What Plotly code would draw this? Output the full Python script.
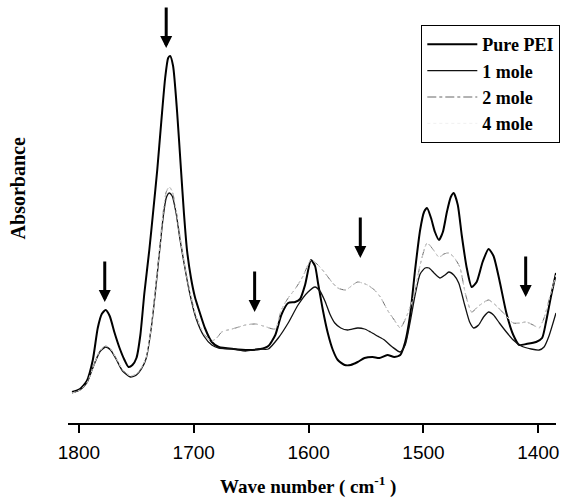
import plotly.graph_objects as go

# ---------------- data ----------------
pure_wn = [1806.0, 1799.1, 1793.1, 1787.9, 1783.6, 1780.1, 1776.7, 1773.2, 1768.9, 1764.6,
           1760.3, 1756.8, 1753.4, 1749.9, 1746.5, 1743.0, 1738.7, 1735.2, 1731.8, 1728.3,
           1724.9, 1722.3, 1720.6, 1718.0, 1714.5, 1711.1, 1708.5, 1705.9, 1702.4, 1699.0,
           1695.5, 1690.3, 1684.3, 1678.2, 1665.3, 1652.3, 1642.0, 1635.1, 1629.0, 1623.8,
           1617.8, 1611.7, 1607.4, 1603.1, 1597.9, 1594.4, 1591.8, 1587.6, 1583.3, 1578.9,
           1574.6, 1568.6, 1563.4, 1557.3, 1551.3, 1544.4, 1538.3, 1531.4, 1525.4, 1520.2,
           1515.9, 1511.6, 1507.3, 1502.9, 1499.5, 1496.9, 1493.4, 1490.0, 1486.5, 1483.1,
           1479.6, 1476.2, 1473.6, 1470.1, 1466.7, 1462.3, 1458.0, 1453.7, 1448.5, 1443.3,
           1439.0, 1433.9, 1427.8, 1421.8, 1416.6, 1410.5, 1401.9, 1396.7, 1393.3, 1388.9,
           1384.6]
pure_abs = [0.31, 0.34, 0.42, 0.63, 0.95, 1.09, 1.13, 1.07, 0.90, 0.75,
            0.63, 0.56, 0.58, 0.65, 0.88, 1.30, 1.73, 2.13, 2.53, 3.01,
            3.45, 3.65, 3.67, 3.57, 3.11, 2.53, 2.09, 1.73, 1.45, 1.26,
            1.13, 0.95, 0.81, 0.76, 0.74, 0.73, 0.74, 0.77, 0.88, 1.08,
            1.20, 1.21, 1.24, 1.38, 1.63, 1.57, 1.40, 1.13, 0.90, 0.73,
            0.63, 0.58, 0.58, 0.61, 0.65, 0.66, 0.65, 0.68, 0.66, 0.68,
            0.81, 1.08, 1.53, 1.93, 2.11, 2.15, 2.05, 1.91, 1.83, 1.91,
            2.11, 2.26, 2.30, 2.18, 1.88, 1.55, 1.36, 1.41, 1.61, 1.74,
            1.67, 1.43, 1.10, 0.88, 0.78, 0.79, 0.81, 0.85, 1.01, 1.27,
            1.50]

mole1_wn = [1806.0, 1799.1, 1793.1, 1787.9, 1781.9, 1776.7, 1772.4, 1767.2, 1762.0, 1755.1,
            1749.9, 1745.6, 1741.3, 1737.0, 1733.5, 1730.1, 1726.6, 1724.0, 1721.4, 1718.8,
            1715.4, 1711.9, 1708.5, 1704.1, 1698.1, 1691.2, 1684.3, 1678.2, 1665.3, 1654.9,
            1643.7, 1635.1, 1626.4, 1617.8, 1609.2, 1600.5, 1594.4, 1590.2, 1585.8, 1581.5,
            1577.2, 1572.0, 1566.0, 1557.3, 1551.3, 1546.1, 1540.1, 1534.0, 1527.1, 1520.2,
            1515.9, 1511.6, 1507.3, 1502.9, 1498.6, 1495.2, 1490.8, 1485.7, 1481.3, 1477.9,
            1473.6, 1469.3, 1464.1, 1459.8, 1456.3, 1452.0, 1447.7, 1443.3, 1439.0, 1433.9,
            1427.8, 1421.8, 1414.9, 1406.2, 1399.3, 1395.0, 1390.7, 1384.6]
mole1_abs = [0.30, 0.33, 0.40, 0.55, 0.71, 0.76, 0.73, 0.63, 0.52, 0.46,
             0.48, 0.54, 0.65, 0.95, 1.30, 1.68, 2.06, 2.25, 2.30, 2.27,
             2.10, 1.83, 1.60, 1.33, 1.05, 0.87, 0.78, 0.75, 0.74, 0.72,
             0.74, 0.74, 0.85, 1.00, 1.18, 1.31, 1.36, 1.32, 1.22, 1.09,
             1.00, 0.95, 0.93, 0.95, 0.94, 0.91, 0.87, 0.83, 0.76, 0.71,
             0.78, 1.01, 1.28, 1.49, 1.55, 1.55, 1.50, 1.45, 1.48, 1.51,
             1.48, 1.40, 1.18, 1.01, 0.95, 0.98, 1.06, 1.11, 1.08, 1.00,
             0.91, 0.83, 0.77, 0.74, 0.73, 0.76, 0.87, 1.10]

mole2_wn = [1806.0, 1799.1, 1793.1, 1787.9, 1781.9, 1776.7, 1772.4, 1767.2, 1762.0, 1755.1,
            1749.9, 1745.6, 1741.3, 1737.0, 1733.5, 1730.1, 1726.6, 1724.0, 1721.4, 1718.8,
            1715.4, 1711.9, 1708.5, 1704.1, 1698.1, 1691.2, 1684.3, 1680.0, 1675.6, 1663.6,
            1654.9, 1646.3, 1639.4, 1629.0, 1623.8, 1617.8, 1611.7, 1604.8, 1597.9, 1591.8,
            1585.8, 1579.8, 1574.6, 1567.7, 1561.7, 1557.3, 1548.7, 1542.7, 1537.5, 1531.4,
            1525.4, 1520.2, 1514.2, 1508.1, 1502.9, 1496.9, 1492.6, 1486.5, 1482.2, 1477.9,
            1473.6, 1468.4, 1463.2, 1458.0, 1452.0, 1443.3, 1436.4, 1430.4, 1421.8, 1415.7,
            1410.5, 1404.5, 1399.3, 1395.0, 1390.7, 1384.6]
mole2_abs = [0.30, 0.33, 0.40, 0.55, 0.72, 0.77, 0.74, 0.64, 0.53, 0.47,
             0.49, 0.55, 0.66, 0.96, 1.33, 1.71, 2.11, 2.31, 2.36, 2.32,
             2.13, 1.86, 1.62, 1.35, 1.07, 0.89, 0.82, 0.85, 0.91, 0.95,
             0.98, 0.99, 0.97, 0.94, 1.13, 1.25, 1.34, 1.47, 1.63, 1.58,
             1.50, 1.41, 1.35, 1.33, 1.38, 1.41, 1.38, 1.33, 1.26, 1.13,
             1.03, 0.95, 1.08, 1.28, 1.58, 1.80, 1.75, 1.66, 1.69, 1.70,
             1.66, 1.56, 1.28, 1.11, 1.17, 1.23, 1.17, 1.10, 1.00, 1.00,
             1.01, 0.98, 0.95, 1.05, 1.23, 1.48]

# 4 mole: printed so faintly that it is essentially invisible (lies on the 2 mole trace)
mole4_wn = mole2_wn
mole4_abs = [0.30, 0.33, 0.40, 0.55, 0.72, 0.77, 0.74, 0.64, 0.53, 0.47,
             0.49, 0.55, 0.66, 0.96, 1.33, 1.71, 2.11, 2.31, 2.36, 2.32,
             2.13, 1.86, 1.62, 1.35, 1.07, 0.89, 0.82, 0.85, 0.91, 0.95,
             0.98, 0.99, 0.97, 0.94, 1.13, 1.25, 1.34, 1.47, 1.63, 1.58,
             1.50, 1.41, 1.35, 1.33, 1.38, 1.41, 1.38, 1.33, 1.26, 1.13,
             1.03, 0.95, 1.08, 1.28, 1.58, 1.80, 1.75, 1.66, 1.69, 1.70,
             1.66, 1.56, 1.28, 1.11, 1.17, 1.23, 1.17, 1.10, 1.00, 1.00,
             1.01, 0.98, 0.95, 1.05, 1.23, 1.48]

series_names = ["Pure PEI", "1 mole", "2 mole", "4 mole"]
tick_vals = [1800, 1700, 1600, 1500, 1400]

# arrows marking the bands of interest (wave number, absorbance at tip)
arrow_wn = [1777.5, 1724.0, 1647.0, 1555.0, 1411.0]
arrow_tip = [1.21, 3.75, 1.11, 1.65, 1.26]

# ---------------- figure ----------------
SERIF = "Liberation Serif"
fig = go.Figure()

styles = [
    dict(color="black", width=2.0, dash="solid"),
    dict(color="#111111", width=1.3, dash="solid"),
    dict(color="#666666", width=1.0, dash="dashdot"),
    dict(color="#ececec", width=0.8, dash="dot"),
]
for name, xs, ys, st in zip(series_names,
                            [pure_wn, mole1_wn, mole2_wn, mole4_wn],
                            [pure_abs, mole1_abs, mole2_abs, mole4_abs],
                            styles):
    fig.add_trace(go.Scatter(x=xs, y=ys, mode="lines", name="<b>%s</b>" % name,
                             line=dict(color=st["color"], width=st["width"], dash=st["dash"],
                                       shape="spline", smoothing=0.6)))

for wn, tip in zip(arrow_wn, arrow_tip):
    fig.add_annotation(x=wn, y=tip, xref="x", yref="y", text="", showarrow=True,
                       ax=0, ay=-42, arrowhead=2, arrowsize=0.8, arrowwidth=3,
                       arrowcolor="black", standoff=0)

fig.add_annotation(text="<b>Absorbance</b>", xref="paper", yref="paper",
                   x=-0.1016, y=0.5875, textangle=-90, showarrow=False,
                   font=dict(family=SERIF, size=20, color="black"),
                   xanchor="center", yanchor="middle")
fig.add_annotation(text="<b>Wave number ( cm<sup>-1</sup> )</b>", xref="paper", yref="paper",
                   x=0.492, y=-0.155, showarrow=False,
                   font=dict(family=SERIF, size=19, color="black"),
                   xanchor="center", yanchor="middle")

fig.update_layout(
    width=570, height=502, autosize=False,
    margin=dict(l=68, r=10, t=23, b=79),
    paper_bgcolor="white", plot_bgcolor="white",
    showlegend=True,
    legend=dict(x=0.724, y=0.995, xanchor="left", yanchor="top",
                bordercolor="black", borderwidth=1, bgcolor="white",
                font=dict(family=SERIF, size=18, color="black"),
                itemwidth=50, tracegroupgap=0),
    xaxis=dict(range=[1809.5, 1384.6], showline=True, linecolor="black", linewidth=1.5,
               ticks="outside", ticklen=8, tickwidth=1.5, tickcolor="black",
               tickvals=tick_vals, ticktext=[str(v) for v in tick_vals],
               tickfont=dict(family="Liberation Sans", size=19, color="black"),
               ticklabelstandoff=3,
               showgrid=False, zeroline=False),
    yaxis=dict(range=[0, 4], visible=False, showgrid=False, zeroline=False),
)

fig.write_html("out.html")
